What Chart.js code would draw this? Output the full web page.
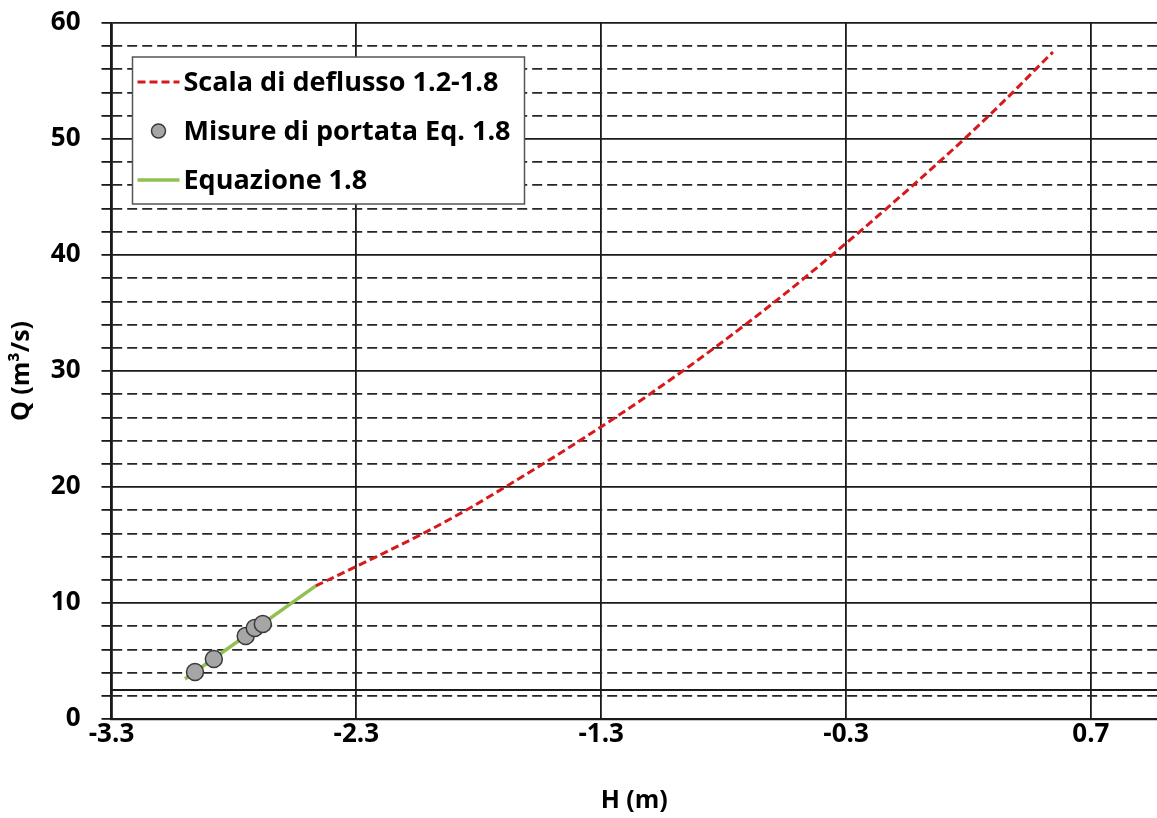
<!DOCTYPE html>
<html><head><meta charset="utf-8">
<script src="https://cdn.jsdelivr.net/npm/chart.js@4/dist/chart.umd.min.js"></script>
<style>html,body{margin:0;padding:0;background:#fff;} #wrap{width:1157px;height:818px;position:relative;} canvas{display:block;}</style>
</head><body><div id="wrap"><canvas id="c" width="1157" height="818"></canvas></div>
<script>
// ---- data ----
const seriesNames = ['Scala di deflusso 1.2-1.8', 'Misure di portata Eq. 1.8', 'Equazione 1.8'];
const curveH = [-2.466,-2.217,-2.027,-1.852,-1.692,-1.537,-1.387,-1.242,-1.102,-0.967,-0.837,-0.711,-0.589,-0.471,-0.357,-0.245,-0.135,-0.027,0.079,0.183,0.283,0.380,0.474,0.545];
const curveQ = [11.47,14,16,18,20,22,24,26,28,30,32,34,36,38,40,42,44,46,48,50,52,54,56,57.5];
const measH = [-2.959,-2.882,-2.752,-2.715,-2.682];
const measQ = [4.05,5.17,7.16,7.84,8.19];
const eqH = [-3.0,-2.466];
const eqQ = [3.45,11.47];
const refH = [-3.3,0.97];
const refQ = [2.5,2.5];
const xTicks = [-3.3,-2.3,-1.3,-0.3,0.7];
const xMin = -3.3, xMax = 0.97, yMin = 0, yMax = 60, yStep = 2, yLabelStep = 10;
const xTitle = 'H (m)', yTitle = 'Q (m³/s)';

const pts = (xs, ys) => xs.map((x, i) => ({x, y: ys[i]}));
const FONT = "'Open Sans'";
const FSIZE = 26;

const legendPlugin = {
  id: 'boxLegend',
  afterDraw(chart) {
    const ctx = chart.ctx, a = chart.chartArea;
    const x0 = a.left + 21, y0 = a.top + 34, w = 392, h = 147;
    ctx.save();
    ctx.fillStyle = '#fff';
    ctx.fillRect(x0, y0, w, h);
    ctx.lineWidth = 1.5; ctx.strokeStyle = '#555';
    ctx.strokeRect(x0, y0, w, h);
    const rows = [1, 2, 3];
    rows.forEach((di, r) => {
      const ds = chart.data.datasets[di];
      const cy = y0 + 25 + r * 49;
      const sx = x0 + 5, sw = 42;
      if (ds.showLine) {
        ctx.beginPath();
        ctx.setLineDash(ds.borderDash || []);
        ctx.lineWidth = ds.borderWidth; ctx.strokeStyle = ds.borderColor;
        ctx.moveTo(sx, cy); ctx.lineTo(sx + sw, cy); ctx.stroke();
        ctx.setLineDash([]);
      } else {
        ctx.beginPath();
        ctx.arc(sx + sw / 2, cy, 7, 0, Math.PI * 2);
        ctx.fillStyle = ds.backgroundColor; ctx.fill();
        ctx.lineWidth = 1.5; ctx.strokeStyle = ds.borderColor; ctx.stroke();
      }
      ctx.fillStyle = '#000';
      ctx.font = 'bold 27px ' + FONT;
      ctx.textBaseline = 'middle';
      ctx.fillText(ds.label, sx + sw + 4, cy + 1);
    });
    ctx.restore();
  }
};

const isMajor = v => Math.abs(v % yLabelStep) < 1e-6;

new Chart(document.getElementById('c'), {
  type: 'scatter',
  data: {
    datasets: [
      { label: 'ref', data: pts(refH, refQ), showLine: true, borderColor: '#1a1a1a', borderWidth: 1.8, pointRadius: 0 },
      { label: seriesNames[0], data: pts(curveH, curveQ), showLine: true, borderColor: '#d7191c', borderWidth: 3, borderDash: [8, 4], pointRadius: 0, cubicInterpolationMode: 'monotone' },
      { label: seriesNames[1], data: pts(measH, measQ), showLine: false, backgroundColor: '#a6a6a6', borderColor: '#3a3a3a', borderWidth: 1.5, pointRadius: 8.5 },
      { label: seriesNames[2], data: pts(eqH, eqQ), showLine: true, borderColor: '#92c050', borderWidth: 3.5, pointRadius: 0 }
    ]
  },
  options: {
    responsive: false,
    animation: false,
    devicePixelRatio: 1,
    layout: { autoPadding: false, padding: { top: 23, right: 0, bottom: 0, left: 0 } },
    plugins: { legend: { display: false }, tooltip: { enabled: false } },
    scales: {
      x: {
        type: 'linear', min: xMin, max: xMax,
        afterBuildTicks: s => { s.ticks = xTicks.map(v => ({value: v})); },
        afterFit: s => { s.height = 99; s.paddingLeft = 0; s.paddingRight = 0; },
        ticks: { color: '#000', font: { family: FONT, size: FSIZE, weight: 'bold' }, padding: 0, autoSkip: false, maxRotation: 0, callback: v => String(v) },
        grid: { color: '#1a1a1a', lineWidth: 1.8, drawTicks: false },
        border: { color: '#1a1a1a', width: 2.2 },
        title: { display: true, text: xTitle, color: '#000', font: { family: FONT, size: 25, weight: 'bold' }, padding: { top: 0, bottom: 2 } }
      },
      y: {
        type: 'linear', min: yMin, max: yMax,
        afterFit: s => { s.width = 111.5; s.paddingTop = 0; s.paddingBottom = 0; },
        ticks: { stepSize: yStep, autoSkip: false, color: '#000', font: { family: FONT, size: FSIZE, weight: 'bold' }, padding: 21,
                 callback: v => isMajor(v) ? String(v) : '' },
        grid: {
          color: c => isMajor(c.tick.value) ? '#1a1a1a' : '#262626',
          lineWidth: 1.8,
          tickLength: 10, tickColor: '#1a1a1a', tickWidth: 1.8
        },
        border: { color: '#1a1a1a', width: 2.2, dash: c => (c.tick && !isMajor(c.tick.value)) ? [10, 5] : [] },
        title: { display: true, text: yTitle, color: '#000', font: { family: FONT, size: 25, weight: 'bold' }, padding: { top: 7, bottom: 0 } }
      }
    }
  },
  plugins: [legendPlugin]
});
</script>
</body></html>
